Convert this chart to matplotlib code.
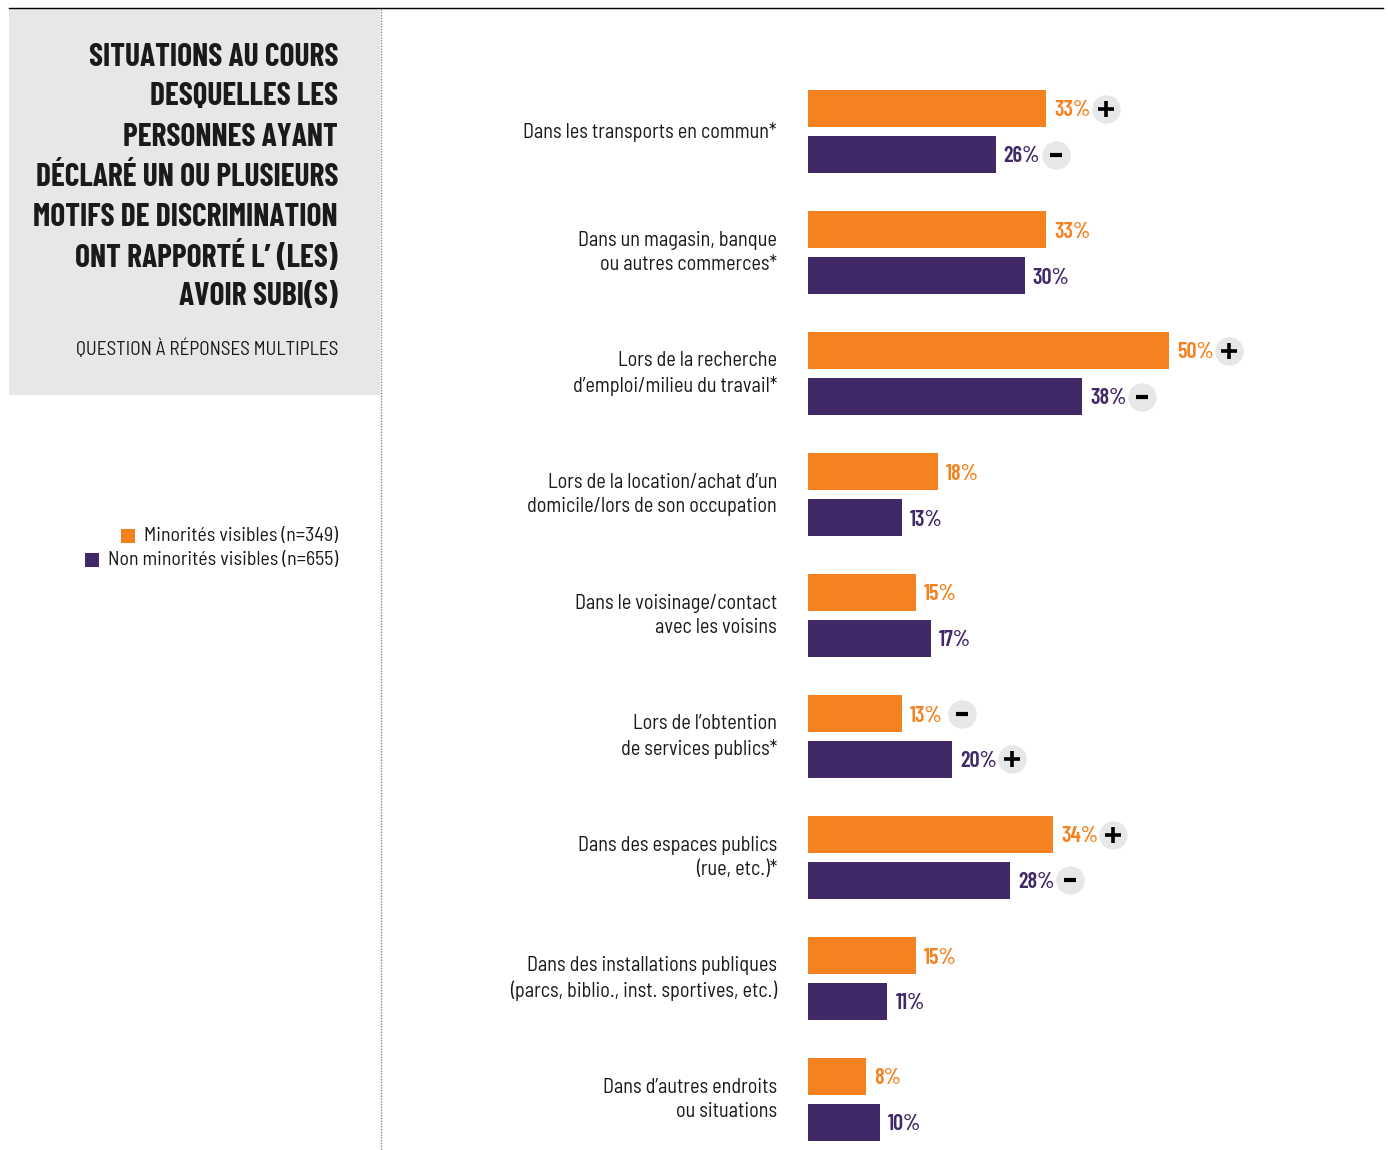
import matplotlib.pyplot as plt
from matplotlib.patches import Rectangle
from matplotlib.lines import Line2D
import numpy as np

# --- DATA ---
categories = [
    "Dans les transports en commun*",
    "Dans un magasin, banque\nou autres commerces*",
    "Lors de la recherche\nd’emploi/milieu du travail*",
    "Lors de la location/achat d’un\ndomicile/lors de son occupation",
    "Dans le voisinage/contact\navec les voisins",
    "Lors de l’obtention\nde services publics*",
    "Dans des espaces publics\n(rue, etc.)*",
    "Dans des installations publiques\n(parcs, biblio., inst. sportives, etc.)",
    "Dans d’autres endroits\nou situations",
]
minorites = [33, 33, 50, 18, 15, 13, 34, 15, 8]
non_minorites = [26, 30, 38, 13, 17, 20, 28, 11, 10]
signs_min = ["+", "", "+", "", "", "-", "+", "", ""]
signs_non = ["-", "", "-", "", "", "+", "-", "", ""]
series_labels = ["Minorités visibles (n=349)", "Non minorités visibles (n=655)"]
title_lines = ["SITUATIONS AU COURS", "DESQUELLES LES", "PERSONNES AYANT",
               "DÉCLARÉ UN OU PLUSIEURS", "MOTIFS DE DISCRIMINATION",
               "ONT RAPPORTÉ L’ (LES)", "AVOIR SUBI(S)"]
subtitle = "QUESTION À RÉPONSES MULTIPLES"

ORANGE = "#f58220"
PURPLE = "#412866"
GREY = "#e6e7e8"
INK = "#1a1a1a"

COND = ["Barlow Condensed", "DejaVu Sans"]
SEMI = ["Barlow Semi Condensed", "DejaVu Sans"]

W, H = 1388, 1150
fig = plt.figure(figsize=(W / 100, H / 100), dpi=100)
rend = fig.canvas.get_renderer()


def fit(txt, width):
    # scale a text so that its width matches the reference
    bb = txt.get_window_extent(rend)
    txt.set_fontsize(txt.get_fontsize() * width / bb.width)


# --- LEFT PANEL (figure pixel coords) ---
bg = fig.add_axes([0, 0, 1, 1])
bg.set_xlim(0, W)
bg.set_ylim(H, 0)
bg.axis("off")
bg.add_patch(Rectangle((9, 9), 371, 386, color=GREY, lw=0))
bg.add_line(Line2D([9, 1383], [8, 8], color="black", lw=1))
bg.add_line(Line2D([381, 381], [9, H], color="#888888", lw=1, ls=(0, (1, 1))))

tts = [bg.text(338, 57 + 40 * k, line, ha="right", va="center", fontsize=28,
               fontweight="bold", color=INK, family=COND)
       for k, line in enumerate(title_lines)]
fit(tts[4], 305)
for t in tts:
    t.set_fontsize(min(tts[4].get_fontsize(), 30))

st = bg.text(338, 349, subtitle, ha="right", va="center", fontsize=15,
             color=INK, family=SEMI)
fit(st, 263)

# legend
leg_texts = [bg.text(338, 536 + 24 * k, lab, ha="right", va="center",
                     fontsize=15, color=INK, family=SEMI)
             for k, lab in enumerate(series_labels)]
fit(leg_texts[1], 230)
leg_texts[0].set_fontsize(leg_texts[1].get_fontsize())
for k, col in enumerate([ORANGE, PURPLE]):
    bb = leg_texts[k].get_window_extent(rend)
    bg.add_patch(Rectangle((bb.x0 - 23, 536 + 24 * k - 7), 14, 14,
                           color=col, lw=0))

# --- BARS ---
x0_px, px_per_pct = 808, 7.22
ax = fig.add_axes([x0_px / W, 0, (W - x0_px) / W, 1])
ax.set_xlim(0, (W - x0_px) / px_per_pct)
pitch = 121
ax.set_ylim((H - 131.5) / pitch, -131.5 / pitch)
ax.axis("off")

y = np.arange(len(categories))
off = 23 / pitch
bh = 37 / pitch
ax.barh(y - off, minorites, height=bh, color=ORANGE)
ax.barh(y + off, non_minorites, height=bh, color=PURPLE)

gap = 8 / px_per_pct
circ = 60 / px_per_pct
nudge = 2 / pitch
for i in range(len(categories)):
    for vals, signs, col, dy in [(minorites, signs_min, ORANGE, -off),
                                 (non_minorites, signs_non, PURPLE, off)]:
        v = vals[i]
        ax.text(v + gap, y[i] + dy + nudge, f"{v}%", ha="left", va="center",
                fontsize=16, fontweight="semibold", color=col, family=COND)
        s = signs[i]
        if s:
            ax.plot(v + circ, y[i] + dy, "o", ms=20.5, color=GREY, mec="none")
            if s == "+":
                ax.plot(v + circ, y[i] + dy, marker="+", ms=12, mew=2.6,
                        color="black")
            else:
                ax.plot(v + circ, y[i] + dy, marker="_", ms=8, mew=3,
                        color="black")

labels = [ax.text(-31 / px_per_pct, y[i], categories[i], ha="right",
                  va="center", fontsize=14, color=INK, linespacing=1.35,
                  family=SEMI) for i in range(len(categories))]
fit(labels[7], 267)
for t in labels:
    t.set_fontsize(labels[7].get_fontsize())

fig.savefig("out.png", dpi=100)
